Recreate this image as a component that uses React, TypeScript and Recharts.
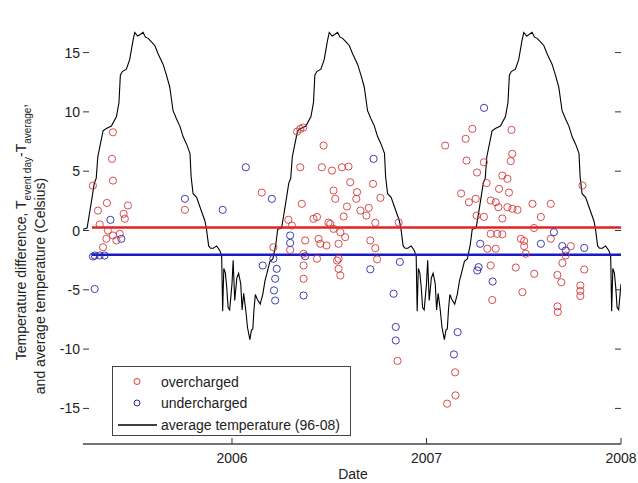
import React from 'react';
import { ComposedChart, Line, Scatter, XAxis, YAxis, Legend } from 'recharts';

const FONT = '"Liberation Sans", Arial, Helvetica, sans-serif';

const X_TICKS = [2006, 2007, 2008];
const Y_TICKS = [-15, -10, -5, 0, 5, 10, 15];
const X_DOMAIN: [number, number] = [2005.234, 2008];
const Y_DOMAIN: [number, number] = [-18, 18];

// average temperature 96-08 by fraction of year: [fraction, temperature]
const AVG_PROFILE: [number, number][] = [
  [0.000, -4.5], [0.006, -2.5], [0.014, -5.9], [0.025, -4.0], [0.034, -3.6], [0.045, -4.5],
  [0.052, -6.7], [0.060, -5.3], [0.070, -6.6], [0.080, -8.2], [0.092, -9.2], [0.100, -8.4],
  [0.107, -8.3], [0.113, -6.7], [0.120, -5.4], [0.130, -5.8], [0.145, -6.2], [0.158, -5.4],
  [0.170, -4.2], [0.180, -3.6], [0.195, -2.6], [0.210, -2.4], [0.225, -1.2], [0.235, 0.1],
  [0.255, 0.2], [0.275, 2.2], [0.292, 4.0], [0.302, 4.4], [0.310, 6.2], [0.337, 8.4],
  [0.354, 8.6], [0.380, 8.8], [0.406, 9.6], [0.419, 10.8], [0.426, 13.1], [0.436, 13.4],
  [0.457, 13.6], [0.474, 14.4], [0.491, 16.0], [0.500, 16.7], [0.515, 16.4], [0.526, 16.5],
  [0.543, 16.7], [0.555, 16.3], [0.569, 16.2], [0.586, 15.9], [0.603, 15.6], [0.620, 14.9],
  [0.646, 14.0], [0.663, 13.1], [0.680, 12.1], [0.697, 10.1], [0.715, 9.4], [0.732, 8.8],
  [0.749, 7.9], [0.766, 7.3], [0.784, 6.5], [0.790, 4.5], [0.800, 3.1], [0.818, 2.8],
  [0.835, 2.0], [0.861, 0.8], [0.869, 0.1], [0.880, -1.3], [0.890, -1.5], [0.904, -1.5],
  [0.921, -1.3], [0.938, -1.7], [0.947, -2.2], [0.952, -6.8], [0.958, -3.2], [0.966, -3.6],
  [0.973, -4.8], [0.980, -6.5], [0.988, -6.7], [0.994, -5.6],
];
const AVG_YEARS = [2005, 2006, 2007, 2008];

// overcharged: [date, temperature difference]
const OVERCHARGED: [number, number][] = [
  [2005.285, 3.79], [2005.383, 6.04], [2005.388, 8.28], [2005.388, 4.21], [2005.357, 2.32],
  [2005.311, 1.68], [2005.465, 2.11], [2005.443, 1.41], [2005.449, 0.99], [2005.320, 0.51],
  [2005.362, 0.00], [2005.388, -0.42], [2005.423, -0.28], [2005.354, -0.70], [2005.406, -0.84],
  [2005.337, -1.41], [2005.758, 1.74],
  [2006.153, 3.20], [2006.213, -1.41], [2006.351, 8.57], [2006.335, 8.34], [2006.366, 8.68],
  [2006.471, 7.16], [2006.351, 5.33], [2006.462, 5.33], [2006.514, 5.05], [2006.565, 5.33],
  [2006.599, 5.39], [2006.608, 4.07], [2006.725, 3.93], [2006.522, 3.37], [2006.531, 2.67],
  [2006.643, 3.23], [2006.639, 2.67], [2006.763, 2.75], [2006.359, 2.25], [2006.419, 0.99],
  [2006.591, 2.02], [2006.660, 1.68], [2006.703, 1.91], [2006.437, 1.14], [2006.574, 1.18],
  [2006.691, 1.26], [2006.290, 0.90], [2006.737, 0.65], [2006.505, 0.56], [2006.308, 0.42],
  [2006.857, 0.67], [2006.496, 0.67], [2006.522, 0.14], [2006.557, -0.14], [2006.582, -0.56],
  [2006.376, -0.84], [2006.445, -0.70], [2006.454, -1.12], [2006.548, -1.12], [2006.711, -0.84],
  [2006.737, -1.49], [2006.299, -1.64], [2006.368, -1.96], [2006.437, -2.38], [2006.548, -2.38],
  [2006.746, -2.44], [2006.368, -2.95], [2006.368, -4.07], [2006.540, -2.53], [2006.548, -3.23],
  [2006.557, -3.79], [2006.486, -1.26], [2006.851, -10.99],
  [2007.096, 7.16], [2007.201, 7.73], [2007.236, 8.57], [2007.437, 8.48], [2007.206, 5.90],
  [2007.295, 5.75], [2007.441, 6.46], [2007.433, 5.85], [2007.260, 4.89], [2007.390, 4.63],
  [2007.416, 4.36], [2007.309, 4.00], [2007.373, 3.51], [2007.424, 3.20], [2007.178, 3.12],
  [2007.253, 2.67], [2007.218, 2.38], [2007.330, 2.53], [2007.356, 2.38], [2007.370, 1.96],
  [2007.416, 1.96], [2007.442, 1.83], [2007.468, 1.74], [2007.545, 2.25], [2007.639, 2.25],
  [2007.258, 1.26], [2007.295, 1.15], [2007.390, 1.01], [2007.588, 1.14], [2007.553, 0.21],
  [2007.802, 3.79], [2007.330, -0.28], [2007.364, -0.28], [2007.390, -0.32], [2007.485, -0.70],
  [2007.502, -0.88], [2007.639, -0.70], [2007.742, -1.32], [2007.313, -1.54], [2007.356, -1.54],
  [2007.502, -1.32], [2007.510, -1.96], [2007.330, -2.95], [2007.459, -3.12], [2007.699, -2.74],
  [2007.715, -2.11], [2007.811, -3.29], [2007.554, -3.65], [2007.673, -3.75], [2007.693, -4.36],
  [2007.493, -5.20], [2007.338, -5.86], [2007.791, -4.63], [2007.791, -5.10], [2007.791, -5.52],
  [2007.673, -6.40], [2007.675, -6.87], [2007.147, -11.96], [2007.149, -13.90], [2007.106, -14.60],
];

// undercharged: [date, temperature difference]
const UNDERCHARGED: [number, number][] = [
  [2005.375, 0.90], [2005.431, -0.70], [2005.285, -2.19], [2005.294, -2.11], [2005.320, -2.11],
  [2005.345, -2.11], [2005.294, -4.93], [2005.758, 2.67], [2005.952, 1.74],
  [2006.071, 5.33], [2006.205, 2.67], [2006.158, -2.95], [2006.213, -2.38], [2006.230, -3.23],
  [2006.222, -4.07], [2006.216, -5.05], [2006.222, -5.90], [2006.299, -0.42], [2006.299, -1.05],
  [2006.368, -5.48], [2006.728, 6.04], [2006.711, -3.27], [2006.863, -2.65], [2006.831, -5.33],
  [2006.842, -8.13], [2006.842, -9.27], [2006.376, -2.17],
  [2007.296, 10.34], [2007.160, -8.57], [2007.141, -10.45], [2007.276, -1.12], [2007.268, -3.09],
  [2007.261, -3.37], [2007.340, -4.30], [2007.655, -0.14], [2007.698, -1.31], [2007.811, -1.47],
  [2007.588, -1.12], [2007.716, -1.68],
];

const OVER_MEAN = 0.25;
const UNDER_MEAN = -2.05;
const MEAN_RANGE = [2005.28, 2008];

const RED = '#d43a3a';
const BLUE = '#2a2aa0';
const RED_LINE = '#e32222';
const BLUE_LINE = '#1a1ac8';

const avgData = AVG_YEARS.flatMap((yr) => AVG_PROFILE.map(([f, t]) => ({ x: yr + f, y: t }))).filter(
  (d) => d.x >= X_DOMAIN[0] && d.x <= X_DOMAIN[1] + 1e-9
);
const overData = OVERCHARGED.map(([x, y]) => ({ x, y }));
const underData = UNDERCHARGED.map(([x, y]) => ({ x, y }));
const overMeanData = MEAN_RANGE.map((x) => ({ x, y: OVER_MEAN }));
const underMeanData = MEAN_RANGE.map((x) => ({ x, y: UNDER_MEAN }));

const TICK_COLOR = '#333';
const TEXT_COLOR = '#222';

const BottomTick = (p: any) => (
  <g>
    <line x1={p.x} x2={p.x} y1={p.y} y2={p.y - 6} stroke={TICK_COLOR} strokeWidth={1} />
    <text x={p.x} y={p.y + 14} textAnchor="middle" dominantBaseline="central" fontSize={14} fill={TEXT_COLOR} fontFamily={FONT}>
      {p.payload.value}
    </text>
  </g>
);
const TopTick = (p: any) => (
  <line x1={p.x} x2={p.x} y1={p.y} y2={p.y + 6} stroke={TICK_COLOR} strokeWidth={1} />
);
const LeftTick = (p: any) => (
  <g>
    <line x1={p.x} x2={p.x + 6} y1={p.y} y2={p.y} stroke={TICK_COLOR} strokeWidth={1} />
    <text x={p.x - 3} y={p.y} textAnchor="end" dominantBaseline="central" fontSize={14} fill={TEXT_COLOR} fontFamily={FONT}>
      {p.payload.value}
    </text>
  </g>
);
const RightTick = (p: any) => (
  <line x1={p.x} x2={p.x - 6} y1={p.y} y2={p.y} stroke={TICK_COLOR} strokeWidth={1} />
);

const circleShape = (color: string) => (p: any) => (
  <circle cx={p.cx} cy={p.cy} r={3.6} fill="none" stroke={color} strokeWidth={0.9} />
);

const YLabel = (props: any) => {
  const vb = props.viewBox || { x: 0, y: 17, width: 83, height: 427 };
  const cy = vb.y + vb.height / 2;
  return (
    <g fontFamily={FONT} fill={TEXT_COLOR}>
      <text transform="rotate(-90)" x={-(cy + 1.5)} y={25.5} textAnchor="middle" fontSize={14}>
        Temperature difference, T
        <tspan fontSize={10} dy={5}>event day</tspan>
        <tspan dy={-5}>-T</tspan>
        <tspan fontSize={10} dy={5}>average</tspan>
        <tspan dy={-5}>,</tspan>
      </text>
      <text transform="rotate(-90)" x={-(cy + 55.5)} y={44.5} textAnchor="middle" fontSize={14}>
        and average temperature (Celsius)
      </text>
    </g>
  );
};

const XLabel = (props: any) => {
  const vb = props.viewBox || { x: 83, y: 444, width: 538, height: 39 };
  return (
    <text x={vb.x + vb.width / 2 + 1} y={vb.y + 30} textAnchor="middle" dominantBaseline="central" fontSize={14} fill={TEXT_COLOR} fontFamily={FONT}>
      Date
    </text>
  );
};

const LegendBox = () => (
  <svg width={239} height={70} style={{ display: 'block' }} fontFamily={FONT}>
    <rect x={0.5} y={0.5} width={238} height={69} fill="#fff" stroke="#444" strokeWidth={1} />
    <circle cx={25} cy={15.5} r={3} fill="none" stroke={RED} strokeWidth={1} />
    <text x={49} y={15.5} dominantBaseline="central" fontSize={14} fill={TEXT_COLOR}>overcharged</text>
    <circle cx={25} cy={37} r={3} fill="none" stroke={BLUE} strokeWidth={1} />
    <text x={49} y={37} dominantBaseline="central" fontSize={14} fill={TEXT_COLOR}>undercharged</text>
    <line x1={6} x2={45} y1={59} y2={59} stroke="#000" strokeWidth={1.3} />
    <text x={49} y={59} dominantBaseline="central" fontSize={14} fill={TEXT_COLOR}>average temperature (96-08)</text>
  </svg>
);

export default function App() {
  return (
    <div style={{ position: 'absolute', left: 0, top: 0, width: 638, height: 483, background: '#fff' }}>
      <ComposedChart width={638} height={483} margin={{ top: 0, right: 0, bottom: 0, left: 0 }}>
        <XAxis
          dataKey="x"
          type="number"
          domain={X_DOMAIN}
          ticks={X_TICKS}
          allowDataOverflow
          height={39}
          tickSize={0}
          tickMargin={0}
          tickLine={false}
          axisLine={{ stroke: '#444', strokeWidth: 1.5 }}
          tick={BottomTick}
          interval={0}
          label={XLabel}
        />
        <XAxis
          xAxisId="top"
          orientation="top"
          type="number"
          domain={X_DOMAIN}
          ticks={[2006, 2007]}
          allowDataOverflow
          height={17}
          tickSize={0}
          tickMargin={0}
          tickLine={false}
          axisLine={false}
          tick={TopTick}
          interval={0}
        />
        <YAxis
          dataKey="y"
          type="number"
          domain={Y_DOMAIN}
          ticks={Y_TICKS}
          allowDataOverflow
          width={83}
          tickSize={0}
          tickMargin={0}
          tickLine={false}
          axisLine={false}
          tick={LeftTick}
          interval={0}
          label={YLabel}
        />
        <YAxis
          yAxisId="right"
          orientation="right"
          type="number"
          domain={Y_DOMAIN}
          ticks={Y_TICKS}
          allowDataOverflow
          width={17}
          tickSize={0}
          tickMargin={0}
          tickLine={false}
          axisLine={false}
          tick={RightTick}
          interval={0}
        />
        <Line data={avgData} dataKey="y" stroke="#000" strokeWidth={1.1} dot={false} isAnimationActive={false} type="linear" />
        <Scatter data={overData} dataKey="y" shape={circleShape(RED)} isAnimationActive={false} />
        <Scatter data={underData} dataKey="y" shape={circleShape(BLUE)} isAnimationActive={false} />
        <Line data={overMeanData} dataKey="y" stroke={RED_LINE} strokeWidth={2.5} dot={false} isAnimationActive={false} type="linear" />
        <Line data={underMeanData} dataKey="y" stroke={BLUE_LINE} strokeWidth={2.5} dot={false} isAnimationActive={false} type="linear" />
        <Legend
          layout="vertical"
          align="center"
          verticalAlign="middle"
          wrapperStyle={{ left: 112, top: 366, width: 239, height: 70 }}
          content={() => <LegendBox />}
        />
      </ComposedChart>
    </div>
  );
}
